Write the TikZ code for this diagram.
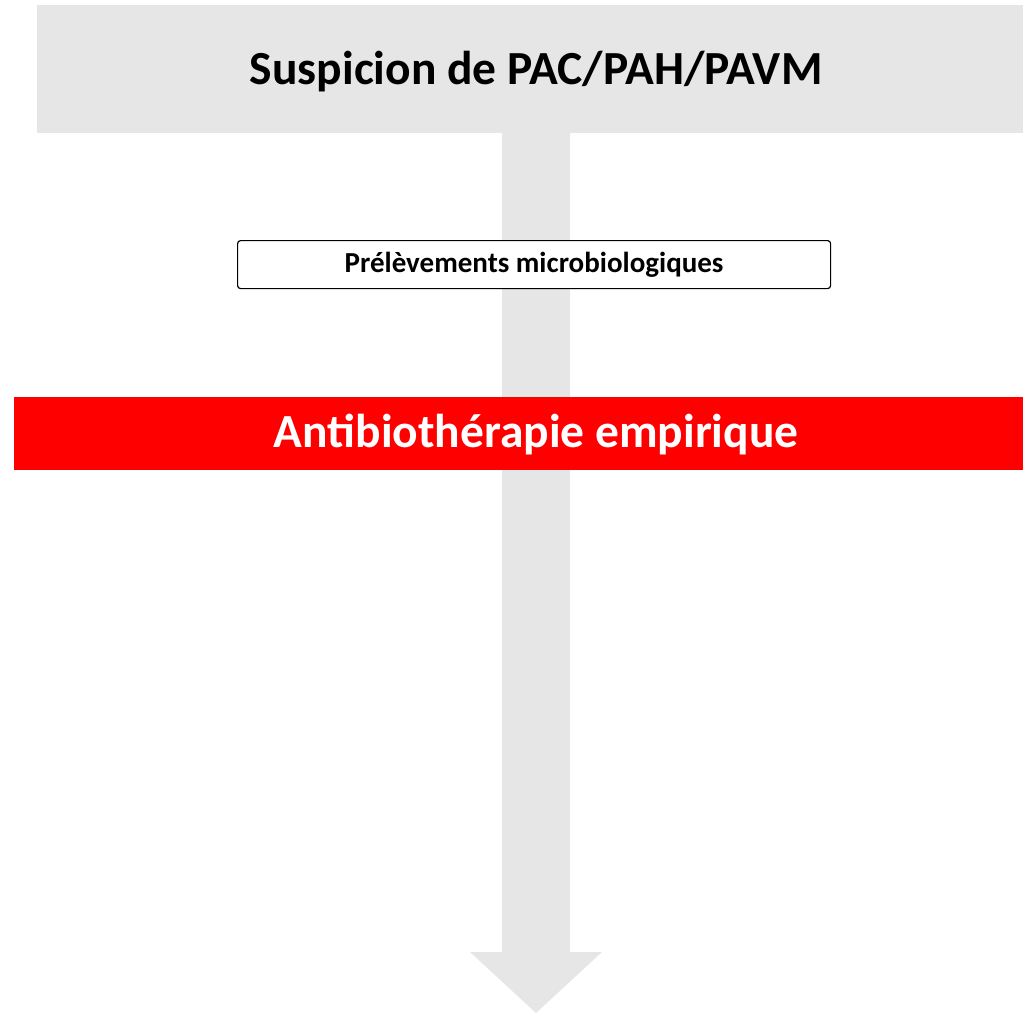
\documentclass[tikz,border=0pt]{standalone}
\usepackage{fontspec}
\setmainfont{Carlito}
\usetikzlibrary{positioning,calc}

\definecolor{lightgrey}{HTML}{E6E6E6}
\definecolor{alertred}{HTML}{FF0000}

\begin{document}
\begin{tikzpicture}[x=1pt,y=-1pt,
    titlebox/.style={fill=lightgrey, minimum width=986pt, minimum height=128pt,
        inner sep=0pt},
    titletext/.style={font=\bfseries\fontsize{47.5}{54}\selectfont},
    samplebox/.style={draw=black, fill=white, rounded corners=3pt, line width=1.2pt,
        minimum width=593pt, minimum height=48pt, inner sep=0pt,
        font=\bfseries\fontsize{29}{34}\selectfont},
    redbox/.style={fill=alertred, minimum width=1009pt, minimum height=73pt,
        inner sep=0pt},
    redtext/.style={text=white, font=\bfseries\fontsize{47.5}{54}\selectfont}
    ]

    \useasboundingbox (0,0) rectangle (1023,1014);

    % suspicion
    \node[titlebox, anchor=north west,
        label={[titletext, xshift=6pt, yshift=-2pt]center:Suspicion de PAC/PAH/PAVM}]
        (suspicion) at (37,5) {};

    % big arrow
    \coordinate (shaft_top) at (536,133);
    \coordinate (head_top) at (536,952);
    \coordinate (tip) at (536,1013);
    \fill[lightgrey]
        ($(shaft_top)+(-34,0)$) --
        ($(shaft_top)+(34,0)$) --
        ($(head_top)+(34,0)$) --
        ($(head_top)+(66,0)$) --
        (tip) --
        ($(head_top)+(-66,0)$) --
        ($(head_top)+(-34,0)$) --
        cycle;

    % samples
    \node[samplebox, anchor=north west] (samples) at (237,240) {Prélèvements microbiologiques};

    % antibiotics
    \node[redbox, anchor=north west,
        label={[redtext, xshift=17.5pt, yshift=-1pt]center:Antibiothérapie empirique}]
        (antibio) at (14,397) {};

\end{tikzpicture}
\end{document}
